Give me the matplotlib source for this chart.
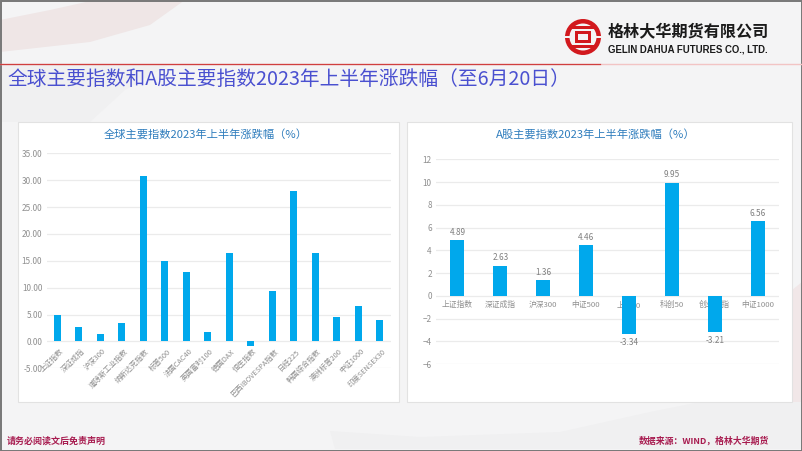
import matplotlib
matplotlib.use('Agg')
import matplotlib.pyplot as plt
from matplotlib.patches import Circle, Rectangle, Polygon
from matplotlib.transforms import ScaledTranslation

plt.rcParams['font.family'] = ['Noto Sans CJK SC', 'DejaVu Sans']

W, H = 802, 451

# left chart
global_names = ['上证指数', '深证成指', '沪深300', '道琼斯工业指数', '纳斯达克指数', '标普500',
                '法国CAC40', '英国富时100', '德国DAX', '恒生指数', '巴西IBOVESPA指数', '日经225',
                '韩国综合指数', '澳洲标普200', '中证1000', '印度SENSEX30']
global_vals = [4.89, 2.63, 1.36, 3.4, 30.8, 14.9, 13.0, 1.8, 16.4, -0.9, 9.3, 27.9, 16.5, 4.6, 6.56, 3.9]
global_ticks = [-5, 0, 5, 10, 15, 20, 25, 30, 35]

# right chart
a_names = ['上证指数', '深证成指', '沪深300', '中证500', '上证50', '科创50', '创业板指', '中证1000']
a_vals = [4.89, 2.63, 1.36, 4.46, -3.34, 9.95, -3.21, 6.56]
a_ticks = [-6, -4, -2, 0, 2, 4, 6, 8, 10, 12]

BAR = '#00a8ec'
GRID = '#ebebeb'
TICK = '#8f8f8f'
TITLE = '#2f7dbd'
PAGE = '#f4f4f5'


def box(x0, y0, x1, y1):
    # pixel box (y from top) to figure fractions
    return [x0 / W, 1 - y1 / H, (x1 - x0) / W, (y1 - y0) / H]


fig = plt.figure(figsize=(W / 100, H / 100), dpi=100, facecolor=PAGE)

bg = fig.add_axes([0, 0, 1, 1])
bg.set_xlim(0, W)
bg.set_ylim(H, 0)
bg.axis('off')

# faint swooshes in the slide background
bg.add_patch(Polygon([(0, 20), (50, 10), (95, 0), (185, 0), (150, 25), (90, 42), (0, 52)], fc='#efe6e6', ec='none'))
bg.add_patch(Polygon([(0, 64), (170, 64), (125, 90), (90, 122), (0, 122)], fc='#f0f0f1', ec='none'))
bg.add_patch(Polygon([(330, 431), (420, 437), (560, 432), (650, 412), (700, 402), (802, 400), (802, 449), (335, 449)],
                     fc='#f0f0f1', ec='none'))
bg.add_patch(Polygon([(792, 290), (802, 282), (802, 402), (792, 402)], fc='#f1e7e8', ec='none'))

# header rule
bg.plot([0, W], [64, 64], color='#f2c4c4', lw=1)
bg.plot([0, 600], [64, 64], color='#c81e1e', lw=0.9, alpha=0.8)

# outer border
bg.add_patch(Rectangle((0.5, 0.5), W - 1, H - 1, fc='none', ec='#777777', lw=1.4))

# logo
cx, cy = 583, 37
bg.add_patch(Circle((cx, cy), 18, fc='#d2191e', ec='none'))
bg.add_patch(Circle((cx, cy), 13.5, fc=PAGE, ec='none'))
bg.add_patch(Rectangle((cx - 12, cy - 11), 24, 3, fc='#d2191e', ec='none'))
bg.add_patch(Rectangle((cx - 12, cy + 8), 24, 3, fc='#d2191e', ec='none'))
bg.add_patch(Rectangle((cx - 19, cy - 1), 8, 2, fc=PAGE, ec='none'))
bg.add_patch(Rectangle((cx + 11, cy - 1), 8, 2, fc=PAGE, ec='none'))
bg.add_patch(Rectangle((cx - 8, cy - 6), 16, 12, fc='#d2191e', ec='none'))
bg.add_patch(Rectangle((cx - 5, cy - 3), 10, 6, fc=PAGE, ec='none'))

bg.text(608, 32, '格林大华期货有限公司', fontsize=11.6, fontweight='bold', color='#1a1a1a',
        ha='left', va='center')
bg.text(608, 49, 'GELIN DAHUA FUTURES CO., LTD.', fontsize=6.9, fontweight='bold', color='#1a1a1a',
        family='Liberation Sans', ha='left', va='center')

bg.text(7, 79, '全球主要指数和A股主要指数2023年上半年涨跌幅（至6月20日）', fontsize=14.2, color='#4a50d0',
        ha='left', va='center')

bg.text(7, 441, '请务必阅读文后免责声明', fontsize=6.5, fontweight='bold', color='#a81c50',
        ha='left', va='center')
bg.text(639, 441, '数据来源：WIND，格林大华期货', fontsize=6.4, fontweight='bold', color='#a81c50',
        ha='left', va='center')

# chart panels
for x0, x1 in [(18, 399), (407, 792)]:
    bg.add_patch(Rectangle((x0, 122), x1 - x0, 280, fc='white', ec='#e2e2e2', lw=0.8))

bg.text(205.5, 134.5, '全球主要指数2023年上半年涨跌幅（%）', fontsize=8.1, color=TITLE, ha='center', va='center')
bg.text(596, 134.5, 'A股主要指数2023年上半年涨跌幅（%）', fontsize=8.1, color=TITLE, ha='center', va='center')


def style(ax):
    ax.patch.set_alpha(0)
    for s in ax.spines.values():
        s.set_visible(False)
    ax.set_axisbelow(True)
    ax.grid(axis='y', color=GRID, lw=0.9)
    ax.tick_params(length=0, labelcolor=TICK, labelsize=5.9)
    ax.tick_params(axis='y', pad=3)


# left
ax1 = fig.add_axes(box(46.5, 153.3, 390.5, 368.3))
ax1.bar(range(len(global_vals)), global_vals, width=0.33, color=BAR)
ax1.set_xlim(-0.5, len(global_vals) - 0.5)
ax1.set_ylim(-5, 35)
ax1.set_yticks(global_ticks)
ax1.set_yticklabels(['%.2f' % t for t in global_ticks])
ax1.set_xticks(range(len(global_names)))
ax1.set_xticklabels([])
style(ax1)
# category labels hang just under the zero line
for i, name in enumerate(global_names):
    ax1.text(i, 0, name, color=TICK, fontsize=5.3, rotation=45, ha='right', va='top', rotation_mode='anchor',
             transform=ax1.transData + ScaledTranslation(2 / 100, -6 / 100, fig.dpi_scale_trans))

# right
ax2 = fig.add_axes(box(436, 159.3, 779, 364))
ax2.bar(range(len(a_vals)), a_vals, width=0.325, color=BAR, zorder=3)
ax2.set_xlim(-0.5, len(a_vals) - 0.5)
ax2.set_ylim(-6, 12)
ax2.set_yticks(a_ticks)
style(ax2)
ax2.set_xticks(range(len(a_names)))
ax2.set_xticklabels([])
for i, name in enumerate(a_names):
    ax2.text(i, 0, name, color=TICK, fontsize=5.6, ha='center', va='top', zorder=2,
             transform=ax2.transData + ScaledTranslation(0, -5 / 100, fig.dpi_scale_trans))
for i, v in enumerate(a_vals):
    ax2.annotate('%.2f' % v, (i, v), xytext=(0, 2.5 if v > 0 else -3), textcoords='offset points',
                 ha='center', va='bottom' if v > 0 else 'top', fontsize=5.9, color='#7f7f7f', zorder=4)

fig.savefig('out.png', dpi=100, facecolor=fig.get_facecolor())
